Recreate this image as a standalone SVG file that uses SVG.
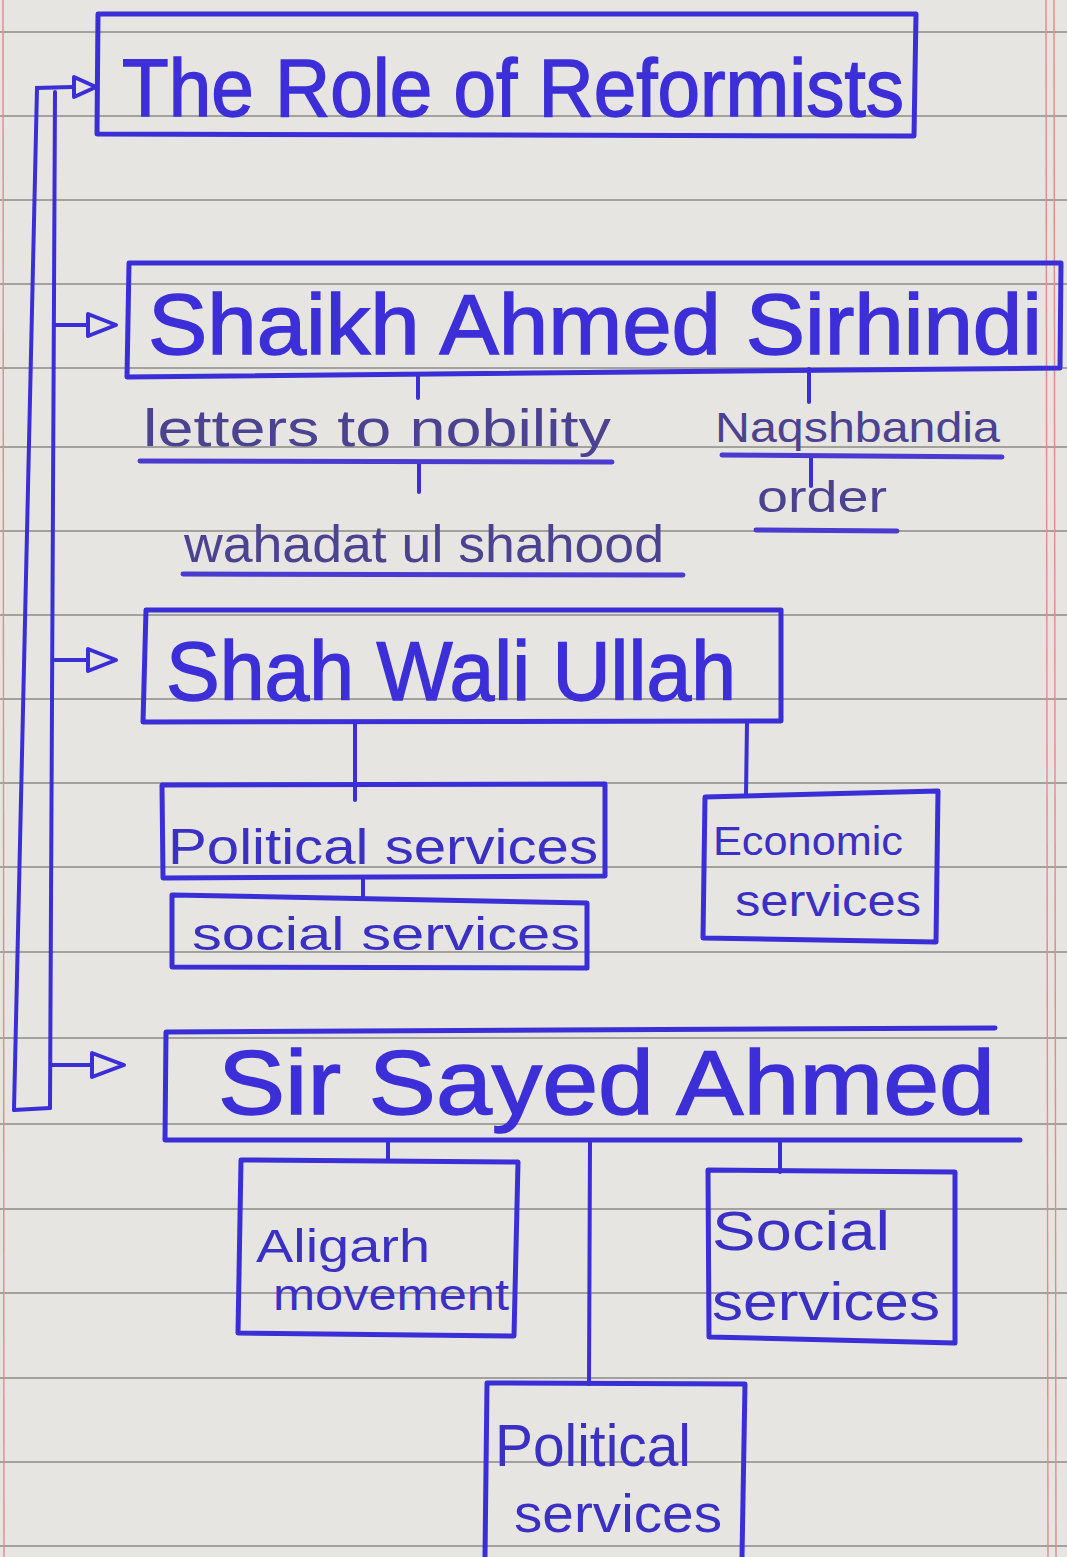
<svg xmlns="http://www.w3.org/2000/svg" width="1067" height="1557" viewBox="0 0 1067 1557">
<style>
.rule{stroke:#8d8a84;stroke-width:1.6}
.margin{stroke:#de8c8c;stroke-width:1.4}
.box{fill:none;stroke:#3a2ed6;stroke-width:5;stroke-linejoin:round;stroke-linecap:round}
.ln{fill:none;stroke:#3a2ed6;stroke-width:4;stroke-linecap:round}
.ul{fill:none;stroke:#4a3ad0;stroke-width:5;stroke-linecap:round}
.arr{fill:none;stroke:#3a2ed6;stroke-width:4;stroke-linejoin:round}
.h{font-family:"Liberation Sans",Arial,sans-serif;fill:#3d2fd8;stroke:#3d2fd8;stroke-width:1.5}
.t{font-family:"Liberation Sans",Arial,sans-serif;fill:#4b4290}
.b{font-family:"Liberation Sans",Arial,sans-serif;fill:#3b30c4}
</style>
<rect width="1067" height="1557" fill="#e7e5e1"/>
<g id="paper">
<line class="rule" x1="0" y1="32" x2="1067" y2="32"/>
<line class="rule" x1="0" y1="116" x2="1067" y2="116"/>
<line class="rule" x1="0" y1="200" x2="1067" y2="200"/>
<line class="rule" x1="0" y1="284" x2="1067" y2="284"/>
<line class="rule" x1="0" y1="368" x2="1067" y2="368"/>
<line class="rule" x1="0" y1="447" x2="1067" y2="447"/>
<line class="rule" x1="0" y1="531" x2="1067" y2="531"/>
<line class="rule" x1="0" y1="615" x2="1067" y2="615"/>
<line class="rule" x1="0" y1="699" x2="1067" y2="699"/>
<line class="rule" x1="0" y1="783" x2="1067" y2="783"/>
<line class="rule" x1="0" y1="867" x2="1067" y2="867"/>
<line class="rule" x1="0" y1="952" x2="1067" y2="952"/>
<line class="rule" x1="0" y1="1038" x2="1067" y2="1038"/>
<line class="rule" x1="0" y1="1124" x2="1067" y2="1124"/>
<line class="rule" x1="0" y1="1209" x2="1067" y2="1209"/>
<line class="rule" x1="0" y1="1293" x2="1067" y2="1293"/>
<line class="rule" x1="0" y1="1378" x2="1067" y2="1378"/>
<line class="rule" x1="0" y1="1462" x2="1067" y2="1462"/>
<line class="rule" x1="0" y1="1546" x2="1067" y2="1546"/>
<line class="margin" x1="1046" y1="0" x2="1048" y2="1557"/>
<line class="margin" x1="1054" y1="0" x2="1056" y2="1557"/>
<line class="margin" x1="3" y1="0" x2="4" y2="1557"/>
</g>
<g id="connectors">
<polyline class="ln" points="14,1110 37,88 72,87"/>
<polyline class="ln" points="50,1108 55,92"/>
<line class="ln" x1="14" y1="1110" x2="50" y2="1108"/>
<line class="ln" x1="55" y1="325" x2="88" y2="325"/>
<line class="ln" x1="55" y1="660" x2="88" y2="660"/>
<line class="ln" x1="52" y1="1065" x2="92" y2="1065"/>
<polygon class="arr" points="74,77 96,87 74,97"/>
<polygon class="arr" points="88,314 116,325 88,336"/>
<polygon class="arr" points="88,649 116,660 88,671"/>
<polygon class="arr" points="92,1053 124,1065 92,1077"/>
<line class="ln" x1="418" y1="376" x2="418" y2="398"/>
<line class="ln" x1="419" y1="462" x2="419" y2="492"/>
<line class="ln" x1="809" y1="369" x2="809" y2="402"/>
<line class="ln" x1="811" y1="456" x2="811" y2="486"/>
<line class="ln" x1="355" y1="722" x2="355" y2="800"/>
<line class="ln" x1="747" y1="722" x2="746" y2="796"/>
<line class="ln" x1="363" y1="878" x2="363" y2="896"/>
<line class="ln" x1="388" y1="1140" x2="388" y2="1160"/>
<line class="ln" x1="590" y1="1140" x2="589" y2="1384"/>
<line class="ln" x1="780" y1="1140" x2="780" y2="1172"/>
</g>
<g id="title">
<polygon class="box" points="98,14 916,14 914,136 97,134"/>
<text class="h" x="122" y="116" font-size="82" textLength="782" lengthAdjust="spacingAndGlyphs">The Role of Reformists</text>
</g>
<g id="shaikh">
<polygon class="box" points="129,263 1061,263 1060,368 127,377"/>
<text class="h" x="148" y="354" font-size="86" textLength="894" lengthAdjust="spacingAndGlyphs">Shaikh Ahmed Sirhindi</text>
</g>
<g id="letters">
<text class="t" x="143" y="446" font-size="52" textLength="468" lengthAdjust="spacingAndGlyphs">letters to nobility</text>
<line class="ul" x1="140" y1="461" x2="612" y2="462"/>
</g>
<g id="wahadat">
<text class="t" x="184" y="562" font-size="52" textLength="480" lengthAdjust="spacingAndGlyphs">wahadat ul shahood</text>
<line class="ul" x1="183" y1="574" x2="683" y2="575"/>
</g>
<g id="naqshbandia">
<text class="t" x="715" y="442" font-size="42" textLength="285" lengthAdjust="spacingAndGlyphs">Naqshbandia</text>
<line class="ul" x1="722" y1="455" x2="1002" y2="457"/>
</g>
<g id="order">
<text class="t" x="757" y="512" font-size="44" textLength="130" lengthAdjust="spacingAndGlyphs">order</text>
<line class="ul" x1="756" y1="530" x2="897" y2="531"/>
</g>
<g id="shah">
<polygon class="box" points="146,610 781,610 781,721 143,722"/>
<text class="h" x="166" y="700" font-size="84" textLength="570" lengthAdjust="spacingAndGlyphs">Shah Wali Ullah</text>
</g>
<g id="political1">
<polygon class="box" points="162,785 605,784 605,876 163,878"/>
<text class="b" x="168" y="864" font-size="50" textLength="430" lengthAdjust="spacingAndGlyphs">Political services</text>
</g>
<g id="social1">
<polygon class="box" points="172,895 587,903 587,968 172,967"/>
<text class="b" x="192" y="950" font-size="46" textLength="388" lengthAdjust="spacingAndGlyphs">social services</text>
</g>
<g id="economic">
<polygon class="box" points="705,797 938,791 936,942 703,938"/>
<text class="b" x="713" y="855" font-size="40" textLength="190" lengthAdjust="spacingAndGlyphs">Economic</text>
<text class="b" x="735" y="916" font-size="44" textLength="186" lengthAdjust="spacingAndGlyphs">services</text>
</g>
<g id="sayed">
<polyline class="box" points="995,1028 166,1032 165,1140 1020,1140"/>
<text class="h" x="218" y="1114" font-size="90" textLength="777" lengthAdjust="spacingAndGlyphs">Sir Sayed Ahmed</text>
</g>
<g id="aligarh">
<polygon class="box" points="241,1160 518,1162 514,1336 238,1333"/>
<text class="b" x="256" y="1262" font-size="46" textLength="174" lengthAdjust="spacingAndGlyphs">Aligarh</text>
<text class="b" x="273" y="1310" font-size="44" textLength="236" lengthAdjust="spacingAndGlyphs">movement</text>
</g>
<g id="social2">
<polygon class="box" points="708,1170 955,1172 955,1343 709,1337"/>
<text class="b" x="712" y="1250" font-size="56" textLength="178" lengthAdjust="spacingAndGlyphs">Social</text>
<text class="b" x="712" y="1320" font-size="54" textLength="228" lengthAdjust="spacingAndGlyphs">services</text>
</g>
<g id="political2">
<polyline class="box" points="485,1557 487,1383 745,1384 742,1557"/>
<text class="b" x="495" y="1466" font-size="60" textLength="196" lengthAdjust="spacingAndGlyphs">Political</text>
<text class="b" x="514" y="1532" font-size="54" textLength="208" lengthAdjust="spacingAndGlyphs">services</text>
</g>
</svg>
